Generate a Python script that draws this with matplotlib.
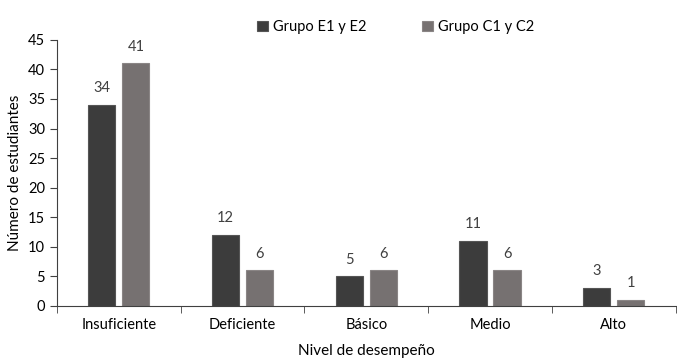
import numpy as np
import matplotlib.pyplot as plt

plt.rcParams['font.family'] = ['Lato', 'DejaVu Sans']

niveles = ['Insuficiente', 'Deficiente', 'Básico', 'Medio', 'Alto']
grupo_e = [34, 12, 5, 11, 3]
grupo_c = [41, 6, 6, 6, 1]
series_names = ['Grupo E1 y E2', 'Grupo C1 y C2']

fig = plt.figure(figsize=(6.77, 3.62), dpi=100)
ax = fig.add_axes([0.084, 0.155, 0.914, 0.735])

x = np.arange(len(niveles))
w = 0.22
b1 = ax.bar(x - 0.138, grupo_e, w, color='#3c3c3c', edgecolor='#555555', linewidth=0.8, label=series_names[0])
b2 = ax.bar(x + 0.138, grupo_c, w, color='#767171', edgecolor='#8a8585', linewidth=0.8, label=series_names[1])

for bars, vals in ((b1, grupo_e), (b2, grupo_c)):
    for r, v in zip(bars, vals):
        ax.annotate(str(v), (r.get_x() + r.get_width() / 2, v), xytext=(0, 7),
                    textcoords='offset points', ha='center', va='bottom',
                    fontsize=10.5, color='#404040')

ax.set_xlim(-0.5, len(niveles) - 0.5)
ax.set_ylim(0, 45)
ax.set_yticks(range(0, 46, 5))
ax.set_xticks(x)
ax.set_xticklabels(niveles)
ax.set_xticks(np.arange(-0.5, len(niveles)), minor=True)
ax.tick_params(axis='x', which='major', length=0, pad=9, labelsize=10.5)
ax.tick_params(axis='x', which='minor', length=5, direction='out', color='#404040')
ax.tick_params(axis='y', length=5, direction='out', labelsize=10.5, color='#404040')

for s in ['top', 'right']:
    ax.spines[s].set_visible(False)
for s in ['left', 'bottom']:
    ax.spines[s].set_color('#404040')

ax.set_xlabel('Nivel de desempeño', fontsize=11, labelpad=8)
ax.set_ylabel('Número de estudiantes', fontsize=11)

fig.legend(loc='center', bbox_to_anchor=(0.585, 0.925), ncol=2, frameon=False,
           fontsize=10.5, handlelength=0.7, handleheight=0.7, columnspacing=3.8,
           handletextpad=0.4)

plt.savefig('out.png', dpi=100)
